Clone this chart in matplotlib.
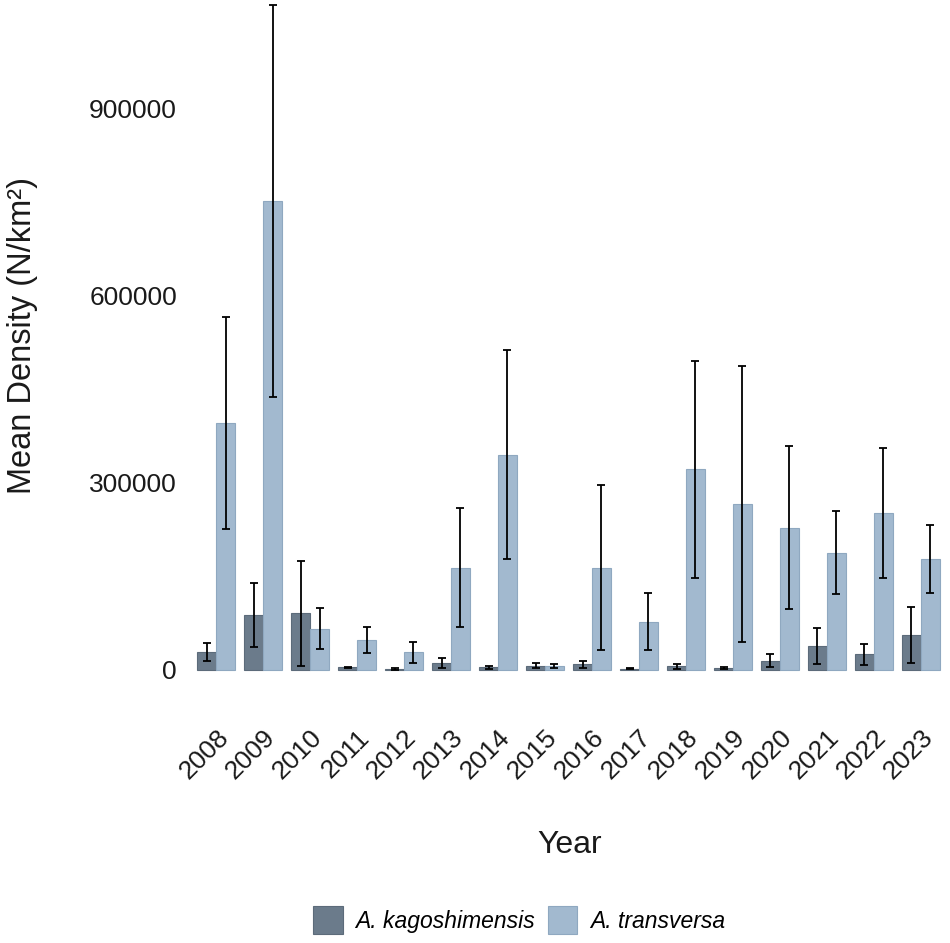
import numpy as np
import matplotlib
matplotlib.use("Agg")
import matplotlib.pyplot as plt

plt.rcParams['font.family'] = ['Liberation Sans', 'DejaVu Sans']

years = [str(y) for y in range(2008, 2024)]

# A. kagoshimensis: mean density and error (N/km²)
kago_mean = [29000, 88500, 91000, 4000, 1000, 11000, 4000, 6400,
             9000, 2000, 6000, 3200, 15000, 38000, 25000, 56000]
kago_err = [14000, 51500, 84000, 1000, 1500, 8500, 2000, 4000,
            6000, 1000, 4000, 2000, 10000, 29000, 17000, 44500]

# A. transversa
trans_mean = [395000, 751000, 66000, 48000, 28000, 164000, 345000, 6000,
              164000, 77000, 321000, 266000, 228000, 188000, 251000, 177000]
trans_err = [170000, 314000, 33000, 21500, 17500, 95000, 168000, 3500,
             132000, 45500, 173000, 221000, 131000, 66000, 104000, 54500]

dark = '#6b7b8b'
light = '#a2b9cf'

fig = plt.figure(figsize=(9.5, 9.43), dpi=100)
ax = fig.add_axes([188 / 950, 1 - 703 / 943, 761 / 950, 703 / 943])

x = np.arange(len(years))
w = 0.4
err_kw = dict(ecolor='black', elinewidth=1.3, capsize=2.8, capthick=1.3)

ax.bar(x - w / 2, kago_mean, w, color=dark, edgecolor='#5c6b7a', linewidth=0.8,
       yerr=kago_err, error_kw=err_kw, label='A. kagoshimensis')
ax.bar(x + w / 2, trans_mean, w, color=light, edgecolor='#8fa8c0', linewidth=0.8,
       yerr=trans_err, error_kw=err_kw, label='A. transversa')

ax.set_xlim(-0.6, len(years) - 0.4)
ax.set_ylim(-53000, 1073000)
ax.set_yticks([0, 300000, 600000, 900000])
ax.set_yticklabels(['0', '300000', '600000', '900000'])
ax.set_xticks(x)
ax.set_xticklabels(years, rotation=45, ha='right', rotation_mode='anchor')

ax.tick_params(axis='both', length=0, labelsize=19, colors='#1a1a1a')
ax.tick_params(axis='y', pad=8)
ax.tick_params(axis='x', pad=16)
for s in ax.spines.values():
    s.set_visible(False)

ax.set_ylabel('Mean Density (N/km²)', fontsize=23.5, color='#1a1a1a')
ax.yaxis.set_label_coords(-0.218, 0.523)
ax.yaxis.label.set_va('center')
ax.set_xlabel('Year', fontsize=23, color='#1a1a1a')
ax.xaxis.set_label_coords(0.502, -0.202)
ax.xaxis.label.set_va('center')

leg = fig.legend(loc='center', bbox_to_anchor=(519 / 950, 1 - 920 / 943), ncol=2,
                 frameon=False, handlelength=1.3, handleheight=1.55,
                 handletextpad=0.55, columnspacing=0.55,
                 prop={'family': 'Liberation Sans', 'style': 'italic', 'size': 16.5})

fig.savefig('out.png', dpi=100)
